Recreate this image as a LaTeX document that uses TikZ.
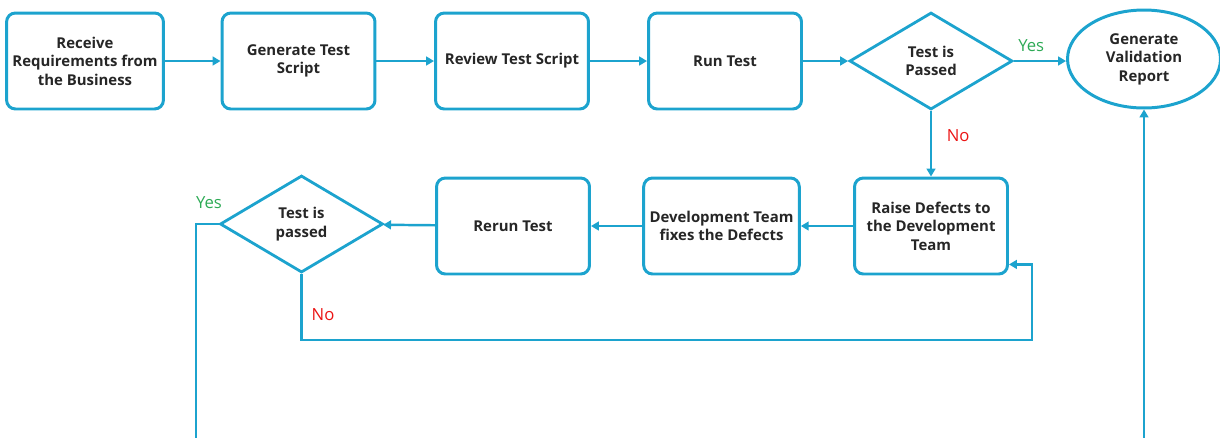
\documentclass[tikz,border=0pt]{standalone}
\usepackage{fontspec}
\setmainfont{Open Sans}
\usetikzlibrary{shapes.geometric,arrows.meta}

\definecolor{flowblue}{RGB}{28,163,206}
\definecolor{yesgreen}{RGB}{45,170,85}
\definecolor{nored}{RGB}{235,20,20}
\definecolor{textgray}{RGB}{38,38,38}

\tikzset{
  stepbox/.style={draw=flowblue, line width=1.7pt, rounded corners=5pt,
    minimum width=3.06cm, minimum height=1.92cm, align=center,
    text=textgray, font=\bfseries\fontsize{8.5}{10.5}\selectfont},
  decision/.style={diamond, draw=flowblue, line width=1.6pt, aspect=1.67,
    minimum width=3.26cm, minimum height=1.94cm, inner sep=0pt, align=center,
    text=textgray, font=\bfseries\fontsize{8.5}{10.5}\selectfont},
  finish/.style={ellipse, draw=flowblue, line width=1.7pt,
    minimum width=3.06cm, minimum height=1.96cm, inner sep=0pt, align=center,
    text=textgray, font=\bfseries\fontsize{8.5}{10.5}\selectfont},
  link/.style={draw=flowblue, line width=1.4pt, -{Triangle[width=5pt,length=4.5pt]}},
  yeslabel/.style={text=yesgreen, font=\fontsize{9.5}{11}\selectfont},
  nolabel/.style={text=nored, font=\fontsize{9.5}{11}\selectfont}
}

\begin{document}
\begin{tikzpicture}[x=0.02cm, y=-0.02cm]
        \useasboundingbox (0,0) rectangle (1220,437);

        % top row
        \node[stepbox] (receive) at (85,61) {Receive\\Requirements from\\the Business};
        \node[stepbox] (generate) at (298.5,61) {Generate Test\\Script};
        \node[stepbox] (review) at (512,61) {Review Test Script};
        \node[stepbox] (run) at (725,61) {Run Test};
        \node[decision] (passed) at (931,61) {Test is\\Passed};
        \node[finish] (report) at (1144,59) {Generate\\Validation\\Report};

        % bottom row
        \node[stepbox] (raise) at (931,226) {Raise Defects to\\the Development\\Team};
        \node[stepbox] (fixes) at (721.5,226) {Development Team\\fixes the Defects};
        \node[stepbox] (rerun) at (513,226) {Rerun Test};
        \node[decision] (repassed) at (301.5,224) {Test is\\passed};

        % loose ends and bends
        \coordinate (yesend) at (196,440);
        \coordinate (reportend) at (1144,440);
        \coordinate (noturn) at (1032,340);

        % arrows
        \draw[link] (receive) -- (generate);
        \draw[link] (generate) -- (review);
        \draw[link] (review) -- (run);
        \draw[link] (run) -- (passed);
        \draw[link] (passed.east) -- node[yeslabel, above=1pt, xshift=-5pt] {Yes} (report.west |- passed.east);
        \draw[link] (passed) -- node[nolabel, right=5pt, pos=0.38] {No} (raise);
        \draw[link] (raise) -- (fixes);
        \draw[link] (fixes) -- (rerun);
        \draw[link] (rerun) -- (repassed);
        \draw[link] (reportend) -- (report);

        % second check
        \draw[draw=flowblue, line width=1.4pt] (repassed.west) -| (yesend);
        \node[yeslabel] (yes2) at (209,203) {Yes};
        \draw[link] (repassed.south) |- (noturn) |- ([yshift=6.3pt]raise.south east);
        \node[nolabel] (no2) at (323,315) {No};
\end{tikzpicture}
\end{document}
